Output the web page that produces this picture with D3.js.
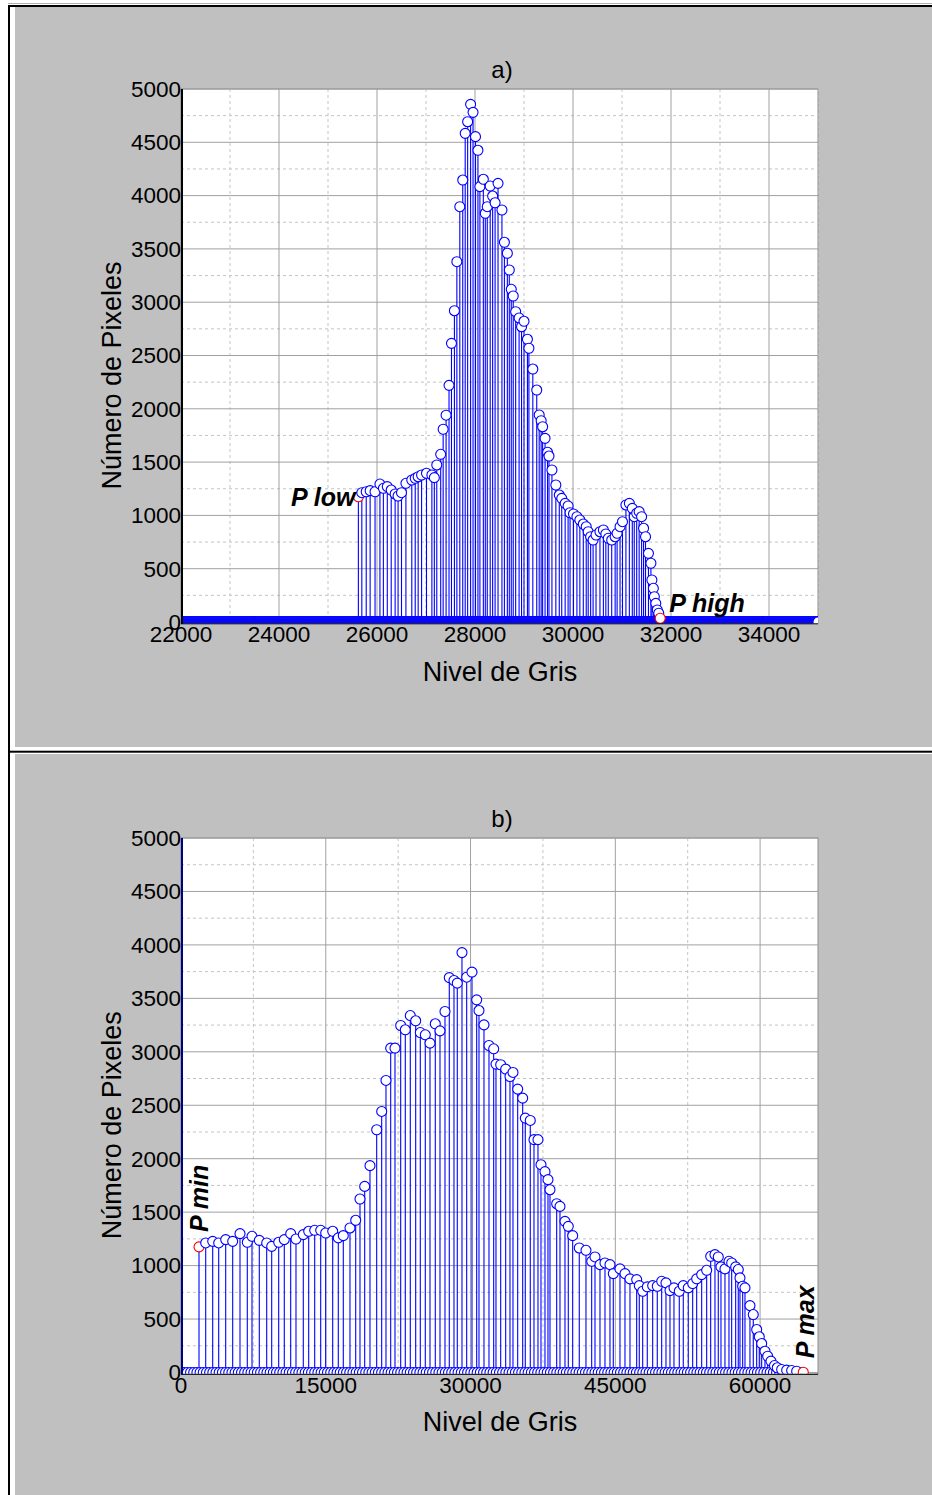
<!DOCTYPE html>
<html>
<head>
<meta charset="utf-8">
<script src="https://cdn.jsdelivr.net/npm/d3@7"></script>
<style>
  body { margin: 0; background: #fff; }
  svg { display: block; }
  text { font-family: Arial, "Liberation Sans", sans-serif; fill: #000; }
</style>
</head>
<body>
<svg id="chart" width="932" height="1495"></svg>
<script>
// a) original histogram, grey level / pixel count
const greyA = [25620, 25690, 25780, 25860, 25960, 26060, 26130, 26210, 26290, 26370,
  26430, 26500, 26590, 26710, 26780, 26840, 26910, 27010, 27120, 27170,
  27220, 27300, 27350, 27410, 27470, 27520, 27580, 27630, 27690, 27750,
  27800, 27850, 27910, 27960, 28010, 28060, 28100, 28170, 28210, 28250,
  28310, 28360, 28410, 28470, 28550, 28600, 28660, 28700, 28740, 28780,
  28830, 28900, 28950, 29000, 29070, 29100, 29180, 29260, 29310, 29350,
  29380, 29430, 29480, 29510, 29570, 29650, 29720, 29770, 29840, 29900,
  29940, 30010, 30080, 30140, 30210, 30270, 30310, 30360, 30410, 30470,
  30550, 30620, 30670, 30720, 30790, 30860, 30900, 30960, 31010, 31080,
  31150, 31210, 31250, 31300, 31350, 31400, 31440, 31480, 31540, 31590,
  31610, 31640, 31660, 31690, 31720, 31750, 31780];
const countA = [1175, 1213, 1222, 1232, 1222, 1294, 1254, 1270, 1238, 1201,
  1182, 1213, 1301, 1332, 1348, 1363, 1379, 1395, 1379, 1354,
  1473, 1573, 1808, 1940, 2220, 2614, 2920, 3380, 3896, 4146,
  4584, 4693, 4856, 4781, 4553, 4425, 4084, 4153, 3834, 3896,
  4090, 3996, 3933, 4115, 3865, 3562, 3459, 3302, 3121, 3058,
  2911, 2852, 2770, 2821, 2652, 2568, 2373, 2176, 1942, 1888,
  1832, 1723, 1592, 1557, 1426, 1285, 1191, 1160, 1113, 1088,
  1025, 1013, 988, 957, 919, 894, 847, 800, 769, 816,
  847, 863, 826, 785, 769, 800, 832, 894, 941, 1098,
  1113, 1066, 988, 1020, 1035, 988, 879, 800, 644, 551,
  394, 316, 237, 175, 113, 82, 35];

// b) stretched histogram
const greyB = [1865, 2559, 3284, 3906, 4631, 5356, 6113, 6869, 7356, 8112,
  8879, 9397, 10122, 10702, 11365, 11914, 12671, 13230, 13852, 14474,
  14992, 15717, 16297, 16815, 17509, 18100, 18545, 19032, 19581, 20275,
  20793, 21239, 21726, 22172, 22762, 23239, 23757, 24316, 24793, 25311,
  25798, 26347, 26834, 27352, 27797, 28284, 28626, 29113, 29600, 30149,
  30636, 30874, 31392, 31910, 32397, 32636, 33123, 33641, 34086, 34397,
  34884, 35402, 35671, 36189, 36573, 36987, 37298, 37712, 38023, 38230,
  38925, 39266, 39785, 40127, 40582, 41266, 41960, 42551, 42893, 43411,
  43929, 44447, 44789, 45483, 46001, 46519, 47213, 47483, 47835, 48311,
  48871, 49347, 49803, 50249, 50663, 51077, 51627, 52041, 52559, 53015,
  53429, 53947, 54465, 54880, 55325, 55667, 55947, 56361, 56776, 57055,
  57470, 57739, 57915, 58195, 58434, 58951, 59293, 59646, 59915, 60164,
  60506, 60785, 61127, 61489, 61780, 62236, 62754, 63272, 63790, 64474];
const countB = [1175, 1212, 1227, 1212, 1243, 1227, 1299, 1218, 1274, 1236,
  1212, 1180, 1218, 1243, 1299, 1249, 1290, 1321, 1330, 1330,
  1305, 1321, 1259, 1280, 1352, 1424, 1623, 1741, 1935, 2271,
  2442, 2732, 3034, 3034, 3246, 3206, 3339, 3290, 3180, 3159,
  3081, 3262, 3196, 3377, 3694, 3667, 3642, 3928, 3698, 3745,
  3486, 3386, 3252, 3059, 3028, 2885, 2879, 2838, 2769, 2807,
  2651, 2567, 2380, 2358, 2178, 2178, 1944, 1879, 1804, 1710,
  1579, 1554, 1414, 1367, 1280, 1165, 1143, 1040, 1081, 1009,
  1025, 1009, 925, 969, 925, 876, 869, 813, 760, 801,
  813, 807, 853, 838, 766, 792, 760, 813, 792, 832,
  876, 916, 956, 1087, 1103, 1081, 988, 969, 1040, 1025,
  988, 963, 885, 807, 792, 626, 542, 402, 334, 271,
  199, 152, 106, 65, 44, 28, 22, 19, 12, 3];

// empty (zero count) bins: [first, last, spacing]
const emptyA = [22000, 35000, 8];
const emptyB = [0, 64400, 330];

const xTicksA = [22000, 24000, 26000, 28000, 30000, 32000, 34000];
const xMinorA = [23000, 25000, 27000, 29000, 31000, 33000, 35000];
const xTicksB = [0, 15000, 30000, 45000, 60000];
const xMinorB = [7500, 22500, 37500, 52500];
const yTicks = [0, 500, 1000, 1500, 2000, 2500, 3000, 3500, 4000, 4500, 5000];
const yMinor = [250, 750, 1250, 1750, 2250, 2750, 3250, 3750, 4250, 4750];

const svg = d3.select('#chart');

// page frame
svg.append('rect').attr('width', 932).attr('height', 1495).attr('fill', '#fff');
svg.append('rect').attr('x', 15).attr('y', 7).attr('width', 917).attr('height', 740).attr('fill', '#c0c0c0');
svg.append('rect').attr('x', 15).attr('y', 754).attr('width', 917).attr('height', 741).attr('fill', '#c0c0c0');
svg.append('rect').attr('x', 8).attr('y', 3).attr('width', 924).attr('height', 1).attr('fill', '#b0b0b0');
svg.append('rect').attr('x', 8).attr('y', 5).attr('width', 924).attr('height', 2).attr('fill', '#000');
svg.append('rect').attr('x', 8).attr('y', 5).attr('width', 2).attr('height', 1490).attr('fill', '#000');
svg.append('rect').attr('x', 8).attr('y', 750.7).attr('width', 924).attr('height', 2).attr('fill', '#000');

function drawPanel(o) {
  const g = svg.append('g');
  const x = d3.scaleLinear().domain(o.xDomain).range([181, 818]);
  const y = d3.scaleLinear().domain([0, 5000]).range([o.y0, o.y5000]);
  const top = y(5000), bot = y(0) + 1.5;

  g.append('rect').attr('x', 181).attr('y', top).attr('width', 637).attr('height', bot - top)
    .attr('fill', '#fff').attr('stroke', '#8c8c8c');

  // grid
  g.append('g').selectAll('line').data(o.xMinor).join('line')
    .attr('x1', d => x(d)).attr('x2', d => x(d)).attr('y1', top).attr('y2', bot)
    .attr('stroke', '#c4c4c4').attr('stroke-dasharray', '3,3');
  g.append('g').selectAll('line').data(yMinor).join('line')
    .attr('x1', 181).attr('x2', 818).attr('y1', d => y(d)).attr('y2', d => y(d))
    .attr('stroke', '#c4c4c4').attr('stroke-dasharray', '3,3');
  g.append('g').selectAll('line').data(o.xTicks).join('line')
    .attr('x1', d => x(d)).attr('x2', d => x(d)).attr('y1', top).attr('y2', bot)
    .attr('stroke', '#a0a0a0');
  g.append('g').selectAll('line').data(yTicks).join('line')
    .attr('x1', 181).attr('x2', 818).attr('y1', d => y(d)).attr('y2', d => y(d))
    .attr('stroke', '#a0a0a0');

  const clipId = 'clip-' + o.name;
  svg.append('clipPath').attr('id', clipId).append('rect')
    .attr('x', 181).attr('y', top).attr('width', 637).attr('height', bot - 0.2 - top);

  const bins = o.grey.map((v, i) => ({ g: v, c: o.count[i], edge: i === 0 || i === o.grey.length - 1 }));
  const empty = d3.range(o.empty[0], o.empty[1] + 1, o.empty[2]).map(v => ({ g: v, c: 0 }));
  const marks = g.append('g').attr('clip-path', `url(#${clipId})`);

  marks.append('g').selectAll('line').data(bins).join('line')
    .attr('x1', d => x(d.g)).attr('x2', d => x(d.g))
    .attr('y1', y(0)).attr('y2', d => y(d.c))
    .attr('stroke', '#0000ff').attr('stroke-width', 1.1);
  marks.append('g').selectAll('circle').data(empty).join('circle')
    .attr('cx', d => x(d.g)).attr('cy', y(0)).attr('r', 5)
    .attr('fill', '#fff').attr('stroke', '#0000ff').attr('stroke-width', 1.1);
  marks.append('g').selectAll('circle').data(bins).join('circle')
    .attr('cx', d => x(d.g)).attr('cy', d => y(d.c)).attr('r', 5)
    .attr('fill', '#fff').attr('stroke', d => d.edge ? '#ff0000' : '#0000ff').attr('stroke-width', 1.1);

  // axes
  g.append('line').attr('x1', 181).attr('x2', 818).attr('y1', y(0) + 1.8).attr('y2', y(0) + 1.8)
    .attr('stroke', '#000').attr('stroke-width', 1);
  g.append('line').attr('x1', 182).attr('x2', 182).attr('y1', top).attr('y2', bot + 0.5)
    .attr('stroke', o.yAxisColor).attr('stroke-width', 2);

  g.append('g').selectAll('text').data(yTicks).join('text')
    .attr('x', 181).attr('y', d => y(d)).attr('dy', '0.35em')
    .attr('text-anchor', 'end').attr('font-size', 22.5).text(d => d);
  g.append('g').selectAll('text').data(o.xTicks).join('text')
    .attr('x', d => x(d)).attr('y', y(0) + 20)
    .attr('text-anchor', 'middle').attr('font-size', 22.5).text(d => d);

  g.append('text').attr('x', 502).attr('y', top - 11).attr('text-anchor', 'middle')
    .attr('font-size', 24).text(o.title);
  g.append('text').attr('x', 500).attr('y', y(0) + 58.5).attr('text-anchor', 'middle')
    .attr('font-size', 27).text('Nivel de Gris');
  g.append('text').attr('transform', `translate(121,${(top + y(0)) / 2 + 20}) rotate(-90)`)
    .attr('text-anchor', 'middle').attr('font-size', 27).text('Número de Pixeles');

  o.labels(g, x, y, bins);
}

drawPanel({
  name: 'a', title: 'a)', xDomain: [22000, 35000], y0: 622, y5000: 89,
  grey: greyA, count: countA, empty: emptyA,
  xTicks: xTicksA, xMinor: xMinorA, yAxisColor: '#000',
  labels: (g, x, y, bins) => {
    const lo = bins[0], hi = bins[bins.length - 1];
    g.append('text').attr('x', x(lo.g) - 3).attr('y', y(lo.c) + 9)
      .attr('text-anchor', 'end').attr('font-size', 25).attr('font-weight', 'bold')
      .attr('font-style', 'italic').text('P low');
    g.append('text').attr('x', x(hi.g) + 9).attr('y', y(hi.c) - 6.5)
      .attr('font-size', 25).attr('font-weight', 'bold')
      .attr('font-style', 'italic').text('P high');
  }
});

drawPanel({
  name: 'b', title: 'b)', xDomain: [0, 66000], y0: 1372.5, y5000: 838,
  grey: greyB, count: countB, empty: emptyB,
  xTicks: xTicksB, xMinor: xMinorB, yAxisColor: '#000080',
  labels: (g, x, y, bins) => {
    const lo = bins[0], hi = bins[bins.length - 1];
    g.append('text').attr('transform', `translate(${x(lo.g) + 9},${y(lo.c) - 15}) rotate(-90)`)
      .attr('font-size', 25).attr('font-weight', 'bold').attr('font-style', 'italic').text('P min');
    g.append('text').attr('transform', `translate(${x(hi.g) + 11},${y(hi.c) - 14}) rotate(-90)`)
      .attr('font-size', 25).attr('font-weight', 'bold').attr('font-style', 'italic').text('P max');
  }
});
</script>
</body>
</html>
